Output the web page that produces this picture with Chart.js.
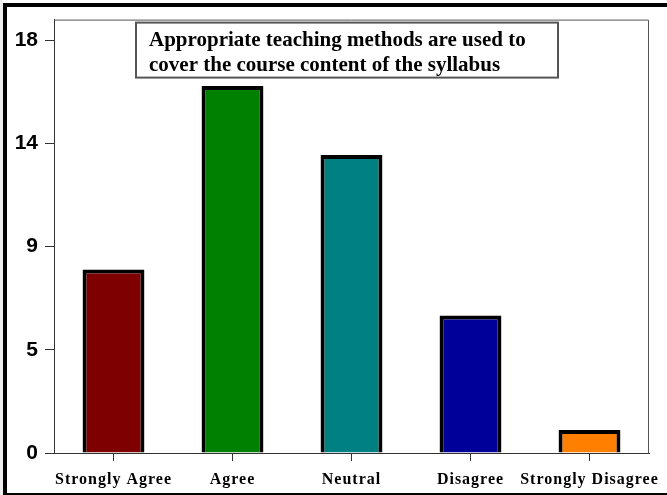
<!DOCTYPE html>
<html>
<head>
<meta charset="utf-8">
<script src="https://cdn.jsdelivr.net/npm/chart.js@4"></script>
<style>
  html, body { margin: 0; padding: 0; background: #ffffff; }
  #wrap { position: relative; width: 667px; height: 495px; }
</style>
</head>
<body>
<div id="wrap"><canvas id="barChart" width="667" height="495"></canvas></div>
<script>
const categories = ['Strongly Agree', 'Agree', 'Neutral', 'Disagree', 'Strongly Disagree'];
const responses = [8, 16, 13, 6, 1];
const barColors = ['#7f0000', '#008000', '#008080', '#000099', '#ff8000'];
const yTickValues = [0, 4.5, 9, 13.5, 18];
const titleLines = ['Appropriate teaching methods are used to', 'cover the course content of the syllabus'];

document.addEventListener('DOMContentLoaded', function () {
    const canvas = document.getElementById('barChart');
    const ctx = canvas.getContext('2d');

    new Chart(ctx, {
        type: 'bar',
        data: {
            labels: categories,
            datasets: [{
                data: responses,
                backgroundColor: barColors,
                borderColor: '#000',
                borderWidth: 4,
                borderSkipped: 'bottom',
                barPercentage: 0.52,
                categoryPercentage: 1.0
            }]
        },
        options: {
            responsive: false,
            animation: false,
            layout: {
                padding: { top: 16, right: 18, bottom: 0, left: 0 }
            },
            scales: {
                x: {
                    grid: {
                        drawOnChartArea: false,
                        tickLength: 8,
                        color: '#333',
                        offset: false
                    },
                    border: { color: '#333', width: 1 },
                    ticks: { display: false },
                    afterFit: function (scale) { scale.height = 42; }
                },
                y: {
                    min: 0,
                    max: 18.9,
                    afterBuildTicks: function (scale) {
                        scale.ticks = yTickValues.map(v => ({ value: v }));
                    },
                    ticks: {
                        color: '#000',
                        padding: 7,
                        font: { family: '"Liberation Sans", Arial, sans-serif', size: 21, weight: 'bold' },
                        callback: function (value) { return Math.round(value); }
                    },
                    grid: {
                        drawOnChartArea: false,
                        tickLength: 9,
                        color: '#333'
                    },
                    border: { color: '#333', width: 1 },
                    afterFit: function (scale) { scale.width = 54; }
                }
            },
            plugins: {
                legend: { display: false },
                tooltip: { enabled: false }
            }
        },
        plugins: [{
            id: 'frameAndTitle',
            beforeDraw: (chart) => {
                const c = chart.ctx;
                c.save();
                c.fillStyle = '#fff';
                c.fillRect(0, 0, chart.width, chart.height);
                c.restore();
            },
            afterDraw: (chart) => {
                const c = chart.ctx;
                const area = chart.chartArea;
                const xScale = chart.scales.x;
                c.save();
                // plot frame top/right
                c.strokeStyle = '#555';
                c.lineWidth = 1;
                c.beginPath();
                c.moveTo(area.left, area.top + 0.5);
                c.lineTo(area.right - 0.5, area.top + 0.5);
                c.lineTo(area.right - 0.5, area.bottom);
                c.stroke();

                // category labels, spaced out like the original
                c.fillStyle = '#000';
                c.font = 'bold 16px "Liberation Serif", "Times New Roman", serif';
                c.letterSpacing = '1px';
                c.textAlign = 'center';
                c.textBaseline = 'alphabetic';
                categories.forEach((label, i) => {
                    c.fillText(label, xScale.getPixelForValue(i), area.bottom + 31);
                });
                c.letterSpacing = '0px';

                // title box
                const bx = area.left + 82, by = area.top + 3, bw = 422, bh = 55;
                c.fillStyle = '#fff';
                c.fillRect(bx, by, bw, bh);
                c.strokeStyle = '#555';
                c.lineWidth = 2;
                c.strokeRect(bx, by, bw, bh);
                c.fillStyle = '#000';
                c.font = 'bold 21px "Liberation Serif", "Times New Roman", serif';
                c.textAlign = 'left';
                c.fillText(titleLines[0], bx + 13, by + 23);
                c.fillText(titleLines[1], bx + 13, by + 48);

                // outer frame
                c.fillStyle = '#000';
                c.fillRect(3, 3, chart.width - 3, 4);
                c.fillRect(3, 3, 4, chart.height - 3);
                c.fillRect(3, chart.height - 2, chart.width - 3, 2);
                c.fillStyle = '#eee';
                c.fillRect(0, 0, 3, chart.height);
                c.restore();
            }
        }]
    });
});
</script>
</body>
</html>
